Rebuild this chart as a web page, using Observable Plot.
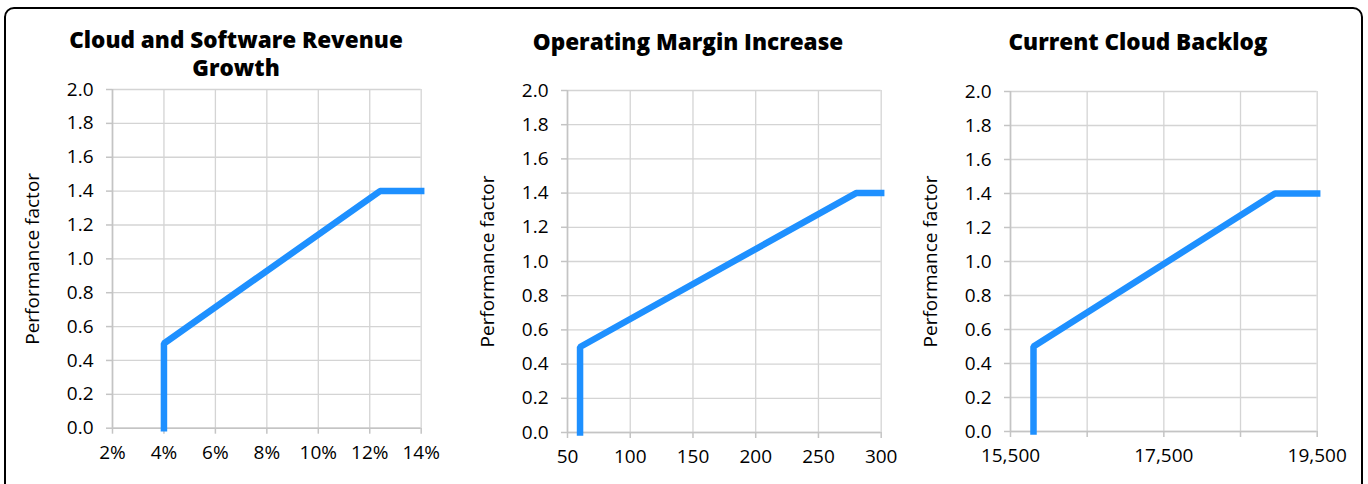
<!DOCTYPE html>
<html>
<head>
<meta charset="utf-8">
<script src="https://cdn.jsdelivr.net/npm/d3@7"></script>
<script src="https://cdn.jsdelivr.net/npm/@observablehq/plot@0.6"></script>
<style>
  html, body { margin: 0; padding: 0; background: #fff; }
  body { width: 1368px; height: 484px; position: relative; overflow: hidden; font-family: "Open Sans", sans-serif; }
  .frame { position: absolute; left: 4px; top: 7px; width: 1359px; height: 540px; border: 2.5px solid #000; border-radius: 10px; box-sizing: border-box; }
  .title { position: absolute; width: 500px; text-align: center; font-family: "Open Sans", sans-serif; font-weight: 800; font-size: 22.5px; line-height: 22px; color: #000; white-space: nowrap; }
  .panel { position: absolute; }
</style>
</head>
<body>
<div class="frame"></div>
<script>
// Performance factor curve points (shared by all three metrics)
const factor = [0, 0.5, 1.4, 1.4];

// Cloud and Software Revenue Growth (%)
const growthX = [4, 4, 12.4, 14];
const growthTicks = [2, 4, 6, 8, 10, 12, 14];

// Operating Margin Increase
const marginX = [60, 60, 280, 300];
const marginTicks = [50, 100, 150, 200, 250, 300];

// Current Cloud Backlog
const backlogX = [15800, 15800, 18950, 19500];
const backlogTicks = [15500, 16500, 17500, 18500, 19500];
const backlogLabels = [15500, 17500, 19500];

// Shared y axis
const yTicks = [0, 0.2, 0.4, 0.6, 0.8, 1.0, 1.2, 1.4, 1.6, 1.8, 2.0];

const titles = [["Cloud and Software Revenue", "Growth"], ["Operating Margin Increase"], ["Current Cloud Backlog"]];
const yLabel = "Performance factor";

const gridColor = "#d4d4d4";
const axisColor = "#c4c4c4";
const lineColor = "#1e90ff";
const fs = 19;

// Plot-area boxes on the page, and title placement (centre x, first baseline)
const panels = [
  {xs: growthX, domain: [2, 14], ticks: growthTicks, fmt: d => d + "%", box: [112, 420.7, 89.3, 428], titleX: 236, titleBase: 48.3},
  {xs: marginX, domain: [50, 300], ticks: marginTicks, fmt: d => String(d), box: [567, 880.7, 90, 432], titleX: 688, titleBase: 50.7},
  {xs: backlogX, domain: [15500, 19500], ticks: backlogTicks, fmt: d => backlogLabels.includes(d) ? d3.format(",")(d) : "", box: [1010, 1316.7, 91, 431], titleX: 1138, titleBase: 50.7}
];

const mL = 100, mR = 25, mT = 10, mB = 45;

panels.forEach((p, i) => {
  const [x0, x1, y0, y1] = p.box;
  const data = p.xs.map((x, j) => ({x, y: factor[j]}));
  const chart = Plot.plot({
    width: mL + (x1 - x0) + mR,
    height: mT + (y1 - y0) + mB,
    marginLeft: mL, marginRight: mR, marginTop: mT, marginBottom: mB,
    style: {fontFamily: "'Open Sans', sans-serif", fontSize: fs + "px", color: "#000", background: "transparent", overflow: "visible"},
    x: {domain: p.domain, label: null},
    y: {domain: [0, 2], label: null},
    marks: [
      Plot.gridX(p.ticks, {stroke: gridColor, strokeOpacity: 1, strokeWidth: 1.3}),
      Plot.gridY(yTicks, {stroke: gridColor, strokeOpacity: 1, strokeWidth: 1.3}),
      Plot.ruleX([p.domain[0]], {stroke: axisColor, strokeWidth: 1.6}),
      Plot.ruleY([0], {stroke: axisColor, strokeWidth: 1.6}),
      Plot.axisX(p.ticks, {tickSize: 6, tickPadding: 11, stroke: axisColor, strokeWidth: 1.5, fill: "#000", tickFormat: p.fmt, fontSize: fs}),
      Plot.axisY(yTicks, {tickSize: 6, tickPadding: 13, stroke: axisColor, strokeWidth: 1.5, fill: "#000", tickFormat: d3.format(".1f"), fontSize: fs}),
      Plot.text([yLabel], {frameAnchor: "left", textAnchor: "middle", rotate: -90, dx: -80, lineAnchor: "middle", fontSize: fs, fill: "#000"}),
      Plot.line(data, {x: "x", y: "y", stroke: lineColor, strokeWidth: 6.5, strokeLinejoin: "miter", strokeLinecap: "square"})
    ]
  });
  chart.classList.add("panel");
  chart.style.left = (x0 - mL) + "px";
  chart.style.top = (y0 - mT) + "px";
  document.body.appendChild(chart);

  // Title lines, each placed by its baseline (28px apart)
  titles[i].forEach((line, k) => {
    const t = document.createElement("div");
    t.className = "title";
    t.textContent = line;
    t.style.left = (p.titleX - 250) + "px";
    t.style.top = (p.titleBase + 28 * k - 19.5) + "px";
    document.body.appendChild(t);
  });
});
</script>
</body>
</html>
